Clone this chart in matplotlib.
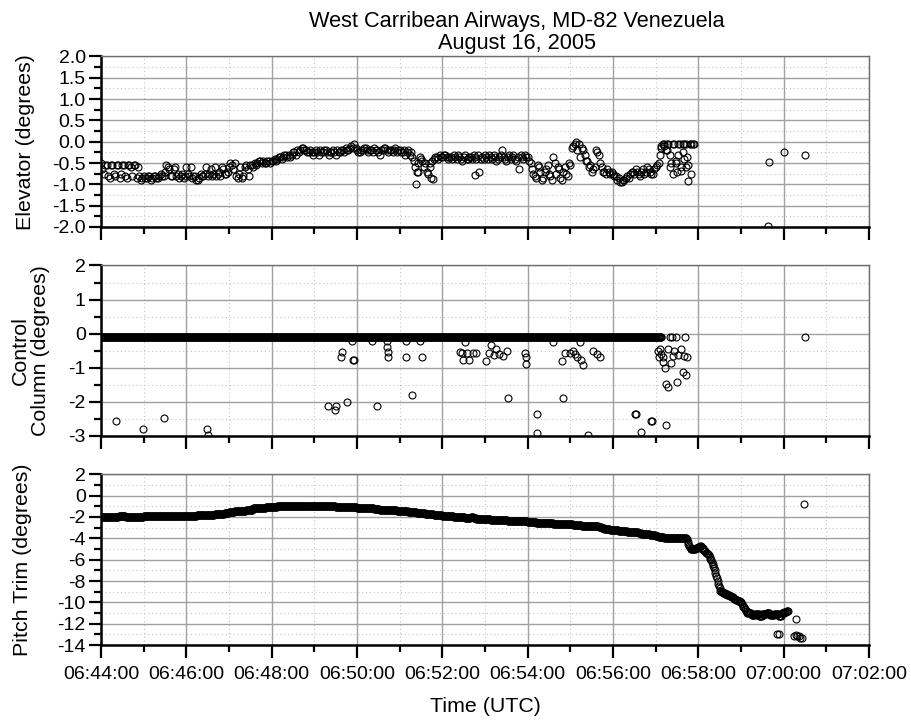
import numpy as np
import matplotlib

matplotlib.use("Agg")
import matplotlib.pyplot as plt
from matplotlib.ticker import FuncFormatter, MultipleLocator

plt.rcParams["font.family"] = ["Liberation Sans", "DejaVu Sans"]

# all times are seconds after 06:44:00 UTC
START_SEC = 6 * 3600 + 44 * 60

# elevator, read every 4 s from 06:44:00 (one row per minute)
ELEV_STEP = 4
elevator = [
    -0.5, -0.75, -0.55, -0.85, -0.55, -0.8, -0.55, -0.75, -0.55, -0.85, -0.55, -0.8, -0.55, -0.6, -0.9,
    -0.8, -0.85, -0.8, -0.85, -0.8, -0.85, -0.75, -0.8, -0.55, -0.65, -0.8, -0.6, -0.75, -0.8, -0.85,
    -0.6, -0.8, -0.85, -0.8, -0.9, -0.75, -0.8, -0.6, -0.75, -0.8, -0.6, -0.75, -0.8, -0.65, -0.75,
    -0.6, -0.55, -0.5, -0.85, -0.6, -0.8, -0.55, -0.8, -0.55, -0.5, -0.5, -0.45, -0.45, -0.5, -0.45,
    -0.45, -0.4, -0.4, -0.35, -0.35, -0.3, -0.3, -0.3, -0.25, -0.2, -0.2, -0.15, -0.2, -0.25, -0.25,
    -0.25, -0.25, -0.2, -0.25, -0.2, -0.3, -0.25, -0.25, -0.2, -0.25, -0.2, -0.15, -0.2, -0.1, -0.05,
    -0.2, -0.25, -0.2, -0.15, -0.25, -0.2, -0.15, -0.2, -0.3, -0.2, -0.15, -0.25, -0.2, -0.2, -0.25,
    -0.2, -0.25, -0.3, -0.2, -0.25, -0.45, -0.7, -0.35, -0.45, -0.5, -0.75, -0.85, -0.4, -0.35, -0.3,
    -0.35, -0.3, -0.4, -0.35, -0.3, -0.4, -0.35, -0.45, -0.3, -0.4, -0.35, -0.3, -0.4, -0.7, -0.35,
    -0.3, -0.4, -0.35, -0.3, -0.45, -0.35, -0.2, -0.4, -0.35, -0.4, -0.3, -0.45, -0.65, -0.35, -0.3,
    -0.35, -0.5, -0.75, -0.85, -0.6, -0.9, -0.7, -0.55, -0.8, -0.35, -0.75, -0.65, -0.9, -0.6, -0.8,
    -0.55, -0.1, 0.0, -0.05, -0.15, -0.3, -0.45, -0.55, -0.65, -0.2, -0.3, -0.6, -0.7, -0.65, -0.75,
    -0.75, -0.8, -0.85, -0.95, -0.9, -0.8, -0.75, -0.7, -0.65, -0.75, -0.7, -0.75, -0.6, -0.7, -0.75,
    -0.6, -0.5, -0.1, -0.05, -0.05, -0.3, -0.05, -0.45, -0.05, -0.6, -0.05, -0.35, -0.05, -0.05,
]
# elevator readings half way between the ones above (06:44:02, 06:44:06, ...)
elevator_mid = [
    -0.65, -0.55, -0.8, -0.55, -0.75, -0.55, -0.85, -0.55, -0.8, -0.55, -0.6, -0.55, -0.85, -0.8, -0.85,
    -0.85, -0.8, -0.9, -0.8, -0.85, -0.8, -0.8, -0.7, -0.6, -0.8, -0.65, -0.8, -0.85, -0.75, -0.8,
    -0.75, -0.6, -0.8, -0.9, -0.85, -0.8, -0.75, -0.8, -0.65, -0.75, -0.8, -0.7, -0.6, -0.75, -0.7,
    -0.5, -0.65, -0.8, -0.75, -0.85, -0.6, -0.65, -0.55, -0.6, -0.55, -0.45, -0.5, -0.5, -0.45, -0.5,
    -0.45, -0.45, -0.35, -0.4, -0.3, -0.35, -0.35, -0.25, -0.3, -0.25, -0.15, -0.2, -0.25, -0.2, -0.3,
    -0.2, -0.3, -0.25, -0.2, -0.25, -0.25, -0.2, -0.3, -0.25, -0.2, -0.25, -0.2, -0.15, -0.15, -0.15,
    -0.25, -0.2, -0.15, -0.2, -0.2, -0.25, -0.2, -0.25, -0.2, -0.15, -0.2, -0.2, -0.25, -0.15, -0.2,
    -0.25, -0.2, -0.25, -0.3, -0.35, -0.6, -0.5, -0.4, -0.6, -0.7, -0.5, -0.45, -0.35, -0.4, -0.35,
    -0.3, -0.35, -0.35, -0.4, -0.35, -0.3, -0.4, -0.35, -0.4, -0.35, -0.4, -0.35, -0.3, -0.4, -0.4,
    -0.35, -0.3, -0.4, -0.35, -0.4, -0.3, -0.35, -0.45, -0.3, -0.35, -0.4, -0.35, -0.3, -0.4, -0.35,
    -0.45, -0.65, -0.8, -0.55, -0.7, -0.85, -0.65, -0.75, -0.9, -0.5, -0.6, -0.85, -0.7, -0.75, -0.5,
    -0.15, -0.05, -0.2, -0.35, -0.2, -0.45, -0.6, -0.7, -0.6, -0.25, -0.5, -0.7, -0.75, -0.7, -0.7,
    -0.8, -0.9, -0.95, -0.9, -0.85, -0.85, -0.7, -0.75, -0.7, -0.8, -0.65, -0.7, -0.65, -0.75, -0.65,
    -0.55, -0.3, -0.05, -0.2, -0.05, -0.5, -0.05, -0.7, -0.05, -0.25, -0.05, -0.55, -0.05,
]
# odd readings off the regular clock
elev_extra_t = [443, 446, 462, 467, 526, 788, 792, 796, 800, 804, 808, 812, 816, 818,
                820, 822, 826, 830, 834, 938, 939.5, 961, 990]
elev_extra_v = [-0.98, -0.72, -0.6, -0.88, -0.78, -0.15, -0.1, -0.2, -0.6, -0.75, -0.5, -0.3, -0.68, -0.05,
                -0.4, -0.6, -0.93, -0.75, -0.05, -1.98, -0.48, -0.25, -0.3]

# control column: neutral reading every second until 06:57:08, plus the excursions
COLUMN_STEP = 1
COLUMN_NEUTRAL_END = 788
column_neutral = -0.1
column_t = [20.7, 58.6, 88.6, 149.5, 150.5, 319.6, 329, 331, 337, 339.5, 345.5, 352.5, 354, 356,
            380.6, 387.7, 402, 402.6, 403, 403.5, 429, 429.5, 438, 448.6, 451, 505, 507, 509, 512,
            514, 518, 523, 528, 542, 545, 549, 552, 556, 560, 565, 571, 573, 596, 597, 598, 613,
            613.8, 635, 648, 649, 652, 659, 664, 667, 670, 674, 675, 678, 685, 692, 697, 702, 751,
            752, 759, 774, 775, 783, 784, 786, 787, 788, 790, 791, 793, 794, 795, 797, 798, 800,
            801, 803, 805, 806, 808, 810, 812, 815, 818, 820, 821, 822, 824, 990]
column_v = [-2.58, -2.81, -2.47, -2.81, -2.97, -2.12, -2.25, -2.12, -0.68, -0.55, -2.02, -0.21, -0.78, -0.78,
            -0.21, -2.12, -0.21, -0.38, -0.55, -0.68, -0.21, -0.68, -1.79, -0.21, -0.68, -0.55, -0.56, -0.78,
            -0.24, -0.56, -0.78, -0.56, -0.56, -0.8, -0.56, -0.34, -0.63, -0.44, -0.59, -0.66, -0.5, -1.9,
            -0.56, -0.68, -0.88, -2.35, -2.92, -0.24, -0.8, -1.9, -0.56, -0.56, -0.5, -0.6, -0.68, -0.24,
            -0.78, -0.92, -2.98, -0.5, -0.6, -0.68, -2.35, -2.35, -2.9, -2.57, -2.58, -0.5, -0.68, -0.44,
            -0.59, -0.1, -0.7, -0.82, -1.02, -2.69, -1.47, -1.56, -0.44, -0.1, -0.87, -0.1, -0.67, -0.52,
            -0.1, -1.42, -0.62, -0.44, -1.12, -0.66, -0.1, -1.22, -0.68, -0.1]

# pitch trim, 1 s readings stored as (value, seconds held) from 06:44:00
trim_runs = [
    (-2.0, 25), (-1.95, 10), (-2.0, 25),
    (-1.95, 40), (-1.9, 20),
    (-1.9, 15), (-1.85, 15), (-1.8, 10), (-1.75, 8), (-1.7, 6), (-1.6, 6),
    (-1.5, 8), (-1.45, 8), (-1.4, 8), (-1.3, 10), (-1.2, 10), (-1.15, 8), (-1.1, 8),
    (-1.05, 8), (-1.0, 82), (-1.05, 20), (-1.1, 10),
    (-1.15, 12), (-1.2, 12), (-1.25, 8), (-1.3, 12), (-1.35, 12), (-1.4, 4),
    (-1.4, 4), (-1.45, 8), (-1.5, 4), (-1.55, 8), (-1.6, 8), (-1.65, 4), (-1.7, 4), (-1.75, 8),
    (-1.8, 8), (-1.85, 4),
    (-1.9, 8), (-1.95, 8), (-2.0, 16), (-2.05, 8), (-2.0, 4), (-2.1, 4), (-2.15, 4), (-2.2, 8),
    (-2.2, 8), (-2.25, 12), (-2.3, 12), (-2.35, 16), (-2.4, 12),
    (-2.45, 4), (-2.5, 8), (-2.55, 12), (-2.6, 12), (-2.65, 12), (-2.7, 12),
    (-2.7, 4), (-2.75, 12), (-2.8, 12), (-2.85, 12), (-2.9, 4), (-3.0, 4), (-3.1, 4), (-3.15, 4),
    (-3.2, 4),
    (-3.25, 8), (-3.3, 8), (-3.35, 4), (-3.4, 8), (-3.45, 8), (-3.5, 4), (-3.55, 4), (-3.6, 8),
    (-3.65, 4), (-3.7, 4),
    (-3.8, 4), (-3.85, 4), (-3.9, 4), (-3.95, 8), (-4.0, 24),
    # nose-down trim run from 06:57:44
    (-4.1, 1), (-4.3, 1), (-4.5, 1), (-4.7, 1), (-4.85, 1), (-5.0, 8), (-4.95, 3), (-4.85, 3),
    (-4.75, 2), (-4.9, 2), (-5.05, 2), (-5.2, 2), (-5.35, 2), (-5.45, 2),
    (-5.6, 1), (-5.75, 1), (-5.9, 1), (-6.05, 1), (-6.2, 1), (-6.4, 1), (-6.6, 1), (-6.8, 1),
    (-7.0, 1), (-7.25, 1), (-7.5, 1), (-7.75, 1), (-8.0, 1), (-8.25, 1), (-8.5, 1), (-8.7, 1),
    (-8.9, 2), (-9.0, 2), (-9.1, 3), (-9.2, 3), (-9.3, 3), (-9.4, 3), (-9.5, 3),
    (-9.7, 3), (-9.8, 3), (-9.9, 3), (-10.0, 2), (-10.2, 2), (-10.4, 2), (-10.6, 2), (-10.8, 2),
    (-11.0, 6), (-11.2, 5), (-11.1, 6), (-11.3, 4), (-11.1, 6), (-11.0, 5), (-11.2, 6), (-11.1, 6),
    (-11.3, 4), (-11.0, 4), (-10.9, 3), (-10.8, 3),
]
trim_extra_t = [951, 954, 975, 977, 978, 979, 981, 983, 986, 989]
trim_extra_v = [-13.0, -13.0, -13.2, -13.1, -11.6, -13.2, -13.2, -13.3, -13.3, -0.8]

TITLE = "West Carribean Airways, MD-82 Venezuela\nAugust 16, 2005"
X_LABEL = "Time (UTC)"
PANELS = [
    # label, label x (axes fraction), y range, major step, minor step, tick format
    ("Elevator (degrees)", -0.086, (-2.0, 2.0), 0.5, 0.25, "{:.1f}"),
    ("Control\nColumn (degrees)", -0.066, (-3, 2), 1, 0.5, "{:.0f}"),
    ("Pitch Trim (degrees)", -0.090, (-14, 2), 2, 1, "{:.0f}"),
]


def clock(sec, _pos=None):
    total = int(round(START_SEC + sec))
    return f"{total // 3600:02d}:{total % 3600 // 60:02d}:{total % 60:02d}"


def sorted_series(t, v):
    t = np.asarray(t, dtype=float)
    v = np.asarray(v, dtype=float)
    order = np.argsort(t, kind="stable")
    return t[order], v[order]


elev_series = sorted_series(
    np.r_[np.arange(len(elevator)) * ELEV_STEP, np.arange(len(elevator_mid)) * ELEV_STEP + 2, elev_extra_t],
    np.r_[elevator, elevator_mid, elev_extra_v],
)

neutral_t = np.arange(0, COLUMN_NEUTRAL_END, COLUMN_STEP)
column_series = sorted_series(np.r_[neutral_t, column_t],
                              np.r_[np.full(len(neutral_t), column_neutral), column_v])

trim_v = np.concatenate([[v] * n for v, n in trim_runs])
trim_series = sorted_series(np.r_[np.arange(len(trim_v)), trim_extra_t], np.r_[trim_v, trim_extra_v])

series = [elev_series, column_series, trim_series]

fig = plt.figure(figsize=(9.11, 7.25), dpi=100)
boxes = [(0.1109, 0.6869, 0.843, 0.2352),
         (0.1109, 0.3990, 0.843, 0.2348),
         (0.1109, 0.1103, 0.843, 0.2355)]

for i, ((label, label_x, ylim, major, minor, fmt), (t, v), box) in enumerate(zip(PANELS, series, boxes)):
    ax = fig.add_axes(box)
    ax.plot(t, v, linestyle="none", marker="o", markersize=5.0, markerfacecolor="none",
            markeredgecolor="black", markeredgewidth=0.8, zorder=3)

    ax.set_xlim(0, 1080)
    ax.set_ylim(*ylim)
    ax.xaxis.set_major_locator(MultipleLocator(120))
    ax.xaxis.set_minor_locator(MultipleLocator(60))
    ax.yaxis.set_major_locator(MultipleLocator(major))
    ax.yaxis.set_minor_locator(MultipleLocator(minor))
    ax.yaxis.set_major_formatter(FuncFormatter(lambda y, _p, f=fmt: f.format(y).replace("-0.0", "0.0")))
    if i == len(PANELS) - 1:
        ax.xaxis.set_major_formatter(FuncFormatter(clock))
        ax.set_xlabel(X_LABEL, fontsize=15.4, labelpad=10)
    else:
        ax.tick_params(axis="x", which="both", labelbottom=False)

    ax.grid(which="major", color="#a0a0a0", linewidth=1.0, zorder=0)
    ax.grid(which="minor", color="#c4c4c4", linewidth=0.8, linestyle=(0, (1, 2.5)), zorder=0)
    ax.set_axisbelow(True)

    ax.tick_params(which="major", direction="out", length=9, width=1.6, labelsize=14, pad=2)
    ax.tick_params(which="minor", direction="out", length=5, width=1.6)
    ax.tick_params(axis="x", which="major", pad=6)
    for side in ("left", "bottom"):
        ax.spines[side].set_linewidth(1.8)
        ax.spines[side].set_color("black")
    for side in ("top", "right"):
        ax.spines[side].set_linewidth(1.0)
        ax.spines[side].set_color("#6e6e6e")

    ax.set_ylabel(label, fontsize=15.4, linespacing=1.1)
    ax.yaxis.set_label_coords(label_x, 0.5)

fig.text(517 / 911, 1 - 54.5 / 725, TITLE, fontsize=15.7, ha="center", va="bottom",
         multialignment="center", linespacing=1.1)

fig.savefig("out.png", dpi=100)
